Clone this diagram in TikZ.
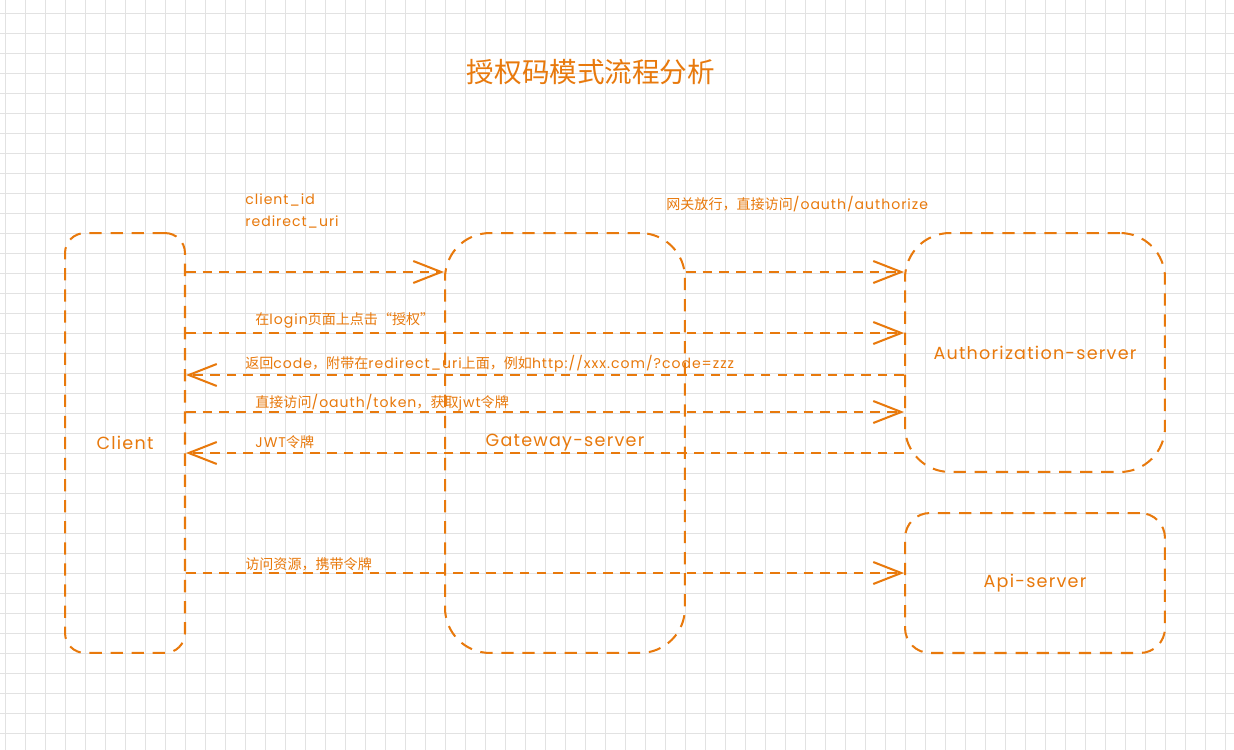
\documentclass[tikz,border=0pt]{standalone}
\usepackage{fontspec}
\setmainfont{Poppins}[LetterSpace=7]
\newfontfamily\cjk{Noto Sans CJK SC}
\newcommand{\zh}[1]{{\cjk #1}}
\usetikzlibrary{arrows.meta}
\definecolor{floworange}{RGB}{232,121,12}
\definecolor{gridgray}{RGB}{226,226,226}

\begin{document}
\begin{tikzpicture}[x=0.02cm,y=-0.02cm]
\tikzstyle{every node}=[font=\fontsize{8}{13}\selectfont, text=floworange]
\tikzstyle{box}=[draw=floworange, line width=1.15pt, dash pattern=on 7pt off 5pt, inner sep=0pt, font=\fontsize{10}{12}\selectfont]
\tikzstyle{flow}=[draw=floworange, line width=1.15pt, dash pattern=on 5.5pt off 4pt, -{Straight Barb[length=5.6mm,width=4.4mm]}]
\tikzstyle{lbl}=[anchor=west, inner sep=0pt]
\useasboundingbox (0,0) rectangle (1234,750);
\fill[white] (0,0) rectangle (1234,750);
% background grid
\foreach \gx in {5,25,...,1225}
  \draw[gridgray, line width=0.5pt] (\gx,0) -- (\gx,750);
\foreach \gy in {13,33,...,753}
  \draw[gridgray, line width=0.5pt] (0,\gy) -- (1234,\gy);
% title
\node[font=\cjk\fontsize{15.7}{18}\selectfont] (title) at (591,72) {授权码模式流程分析};
% boxes
\node[box, minimum width=2.4cm, minimum height=8.4cm, rounded corners=0.4cm] (client) at (125,443) {Client};
\node[box, minimum width=4.8cm, minimum height=8.4cm, rounded corners=0.9cm] (gw) at (565,443) {Gateway-server};
\node[box, minimum width=5.2cm, minimum height=4.78cm, rounded corners=0.9cm] (auth) at (1035,352.5) {Authorization-server};
\node[box, minimum width=5.2cm, minimum height=2.8cm, rounded corners=0.5cm] (api) at (1035,583) {Api-server};
% flows
\draw[flow] (client.east |- 0,272) -- (gw.west |- 0,272);
\draw[flow] (gw.east |- 0,272) -- (auth.west |- 0,272);
\draw[flow] (client.east |- 0,333) -- (auth.west |- 0,333);
\draw[flow] (auth.west |- 0,375) -- (client.east |- 0,375);
\draw[flow] (client.east |- 0,412) -- (auth.west |- 0,412);
\draw[flow] (auth.west |- 0,453) -- (client.east |- 0,453);
\draw[flow] (client.east |- 0,573) -- (api.west |- 0,573);
% flow labels
\node[lbl, anchor=north west, align=left] (params) at (245,193) {client\_id\\redirect\_uri};
\node[lbl] (pass) at (666,204) {\zh{网关放行，直接访问}/oauth/authorize};
\node[lbl] (login) at (255,320) {\zh{在}login\zh{页面上点击“授权”}};
\node[lbl] (code) at (245,364) {\zh{返回}code\zh{，附带在}redirect\_uri\zh{上面，例如}http://xxx.com/?code=zzz};
\node[lbl] (token) at (255,403) {\zh{直接访问}/oauth/token\zh{，获取}jwt\zh{令牌}};
\node[lbl] (jwt) at (255,442) {JWT\zh{令牌}};
\node[lbl] (res) at (245,564) {\zh{访问资源，携带令牌}};
\end{tikzpicture}
\end{document}
